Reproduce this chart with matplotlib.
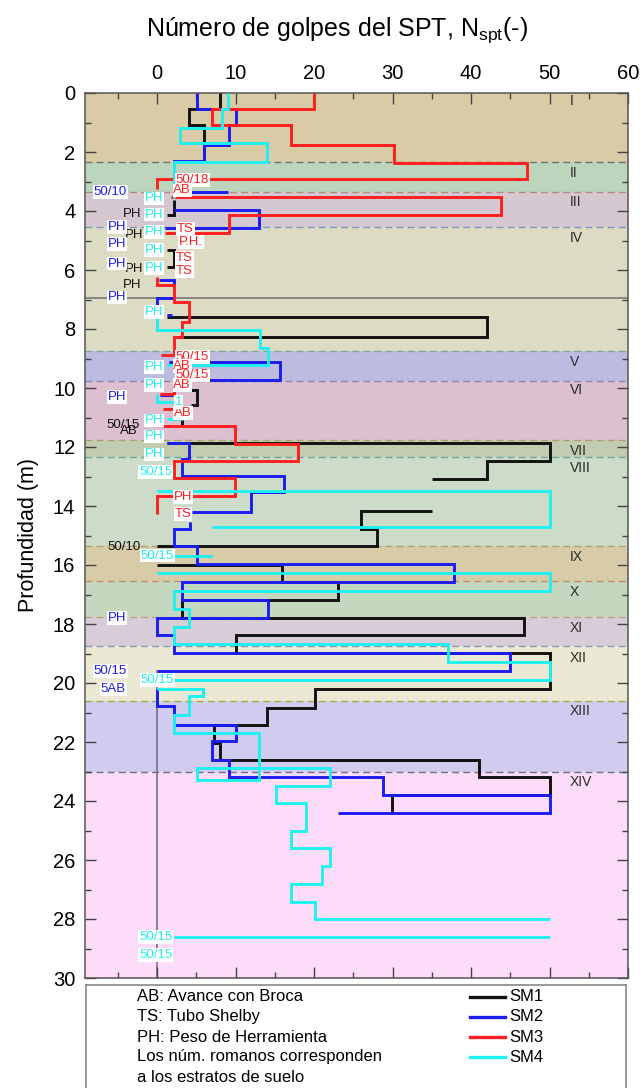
import numpy as np
import matplotlib
matplotlib.use('Agg')
import matplotlib.pyplot as plt

plt.rcParams['font.family'] = ['Liberation Sans', 'DejaVu Sans']
nan = np.nan

# ---------------- data ----------------
strata_bounds = [0, 2.35, 3.35, 4.55, 8.75, 9.75, 11.75, 12.35, 15.35, 16.55,
                 17.75, 18.75, 20.6, 23.0, 30]
strata_names = ['I', 'II', 'III', 'IV', 'V', 'VI', 'VII', 'VIII', 'IX', 'X',
                'XI', 'XII', 'XIII', 'XIV']
strata_label_depth = [0.28, 2.72, 3.68, 4.9, 9.12, 10.08, 12.12, 12.72, 15.74,
                      16.93, 18.12, 19.14, 20.95, 23.34]
strata_colors = ['#d8cba6', '#bdd5bd', '#d5c8d0', '#dcdcc4', '#bcbce0', '#dcc0d0',
                 '#c2ccb0', '#ccdcc8', '#d8cca8', '#c4d8c0', '#d8ccd8', '#ebe9d3',
                 '#d0ccf0', '#fcdcf8']
boundary_colors = ['#707068', '#b08a80', '#7f95c0', '#80a898', '#8a86b8', '#b0a070',
                   '#70a8a0', '#b0a070', '#c09060', '#c0a080', '#8a98b8', '#a0b040',
                   '#707080']
sublayer_depth = 6.95

# SM1 (black)
sm1_n = [8, 8, 4, 4, 6, 6, nan,
         2.1, 2.1, 1.3, nan,
         1.3, 2.1, 2.1, 1.3, nan,
         1.2, 42, 42, 2.6, nan,
         4.3, 5.1, 5.1, 4.3, nan,
         3.1, 3.1, nan,
         1.2, 50, 50, 42, 42, 35, nan,
         35, 26, 26, 28, 28, 0, nan,
         0, 15.9, 15.9, 23, 23, 3.1, 3.1, 46.8, 46.8, 10, 10, 50, 50, 20.1, 20.1,
         14, 14, 7.2, 7.2, 8, 8, 41, 41, 50, 50, 29.9, 29.9]
sm1_z = [0, 0.53, 0.53, 1.08, 1.08, 2.32, nan,
         3.62, 4.13, 4.13, nan,
         5.32, 5.32, 5.89, 5.89, nan,
         7.59, 7.59, 8.27, 8.27, nan,
         10.08, 10.08, 10.59, 10.59, nan,
         11.1, 11.27, nan,
         11.86, 11.86, 12.46, 12.46, 13.08, 13.08, nan,
         14.16, 14.16, 14.78, 14.78, 15.37, 15.37, nan,
         15.99, 15.99, 16.59, 16.59, 17.18, 17.18, 17.78, 17.78, 18.38, 18.38, 18.99,
         18.99, 20.2, 20.2, 20.84, 20.84, 21.41, 21.41, 22.03, 22.03, 22.6, 22.6,
         23.2, 23.2, 23.8, 23.8, 24.41]

# SM2 (blue)
sm2_n = [5.1, 5.1, 10.1, 10.1, 9.1, 9.1, 6, 6, 2.1, 2.1, 9, nan,
         2.1, 13, 13, 1.0, nan,
         0.2, 2.1, 2.1, nan,
         2.1, 0, 0, nan,
         1.2, 1.9, nan,
         1.5, 15.7, 15.7, 2.1, 2.1, nan,
         0.4, 2.0, nan,
         1.2, 4, 4, 3.1, 3.1, 16.1, 16.1, 11.9, 11.9, 4.4, nan,
         4.2, 4.2, 2.1, 2.1, 5.1, 5.1, 37.8, 37.8, 3.1, 3.1, 14.1, 14.1, 0, 0, 2.1,
         2.1, 44.9, 44.9, 0, nan,
         0, 0, 2.1, 2.1, 10, 10, 7, 7, 9.1, 9.1, 28.8, 28.8, 50, 50, 23.1]
sm2_z = [0, 0.53, 0.53, 1.08, 1.08, 1.75, 1.75, 2.32, 2.32, 3.36, 3.36, nan,
         3.96, 3.96, 4.56, 4.56, nan,
         6.34, 6.34, 6.51, nan,
         6.96, 6.96, 7.19, nan,
         7.53, 7.53, nan,
         9.12, 9.12, 9.74, 9.74, 10.08, nan,
         10.25, 10.25, nan,
         11.86, 11.86, 12.4, 12.4, 12.97, 12.97, 13.53, 13.53, 14.19, 14.19, nan,
         14.55, 14.78, 14.78, 15.37, 15.37, 15.97, 15.97, 16.57, 16.57, 17.18, 17.18,
         17.78, 17.78, 18.38, 18.38, 18.99, 18.99, 19.6, 19.6, nan,
         20.2, 20.79, 20.79, 21.41, 21.41, 21.97, 21.97, 22.6, 22.6, 23.18, 23.18,
         23.8, 23.8, 24.41, 24.41]

# SM3 (red)
sm3_n = [20, 20, 7, 7, 17, 17, 30.2, 30.2, 47.1, 47.1, 0, 0, nan,
         1.8, 43.8, 43.8, 9.1, 9.1, 1.0, nan,
         0, 0, 2.1, 2.1, 4, 4, 3.1, 3.1, 2.1, 2.1, 0.5, nan,
         2.1, 2.1, 0.4, nan,
         0.8, 2.3, nan,
         0.8, 9.9, 9.9, 18, 18, 2.1, 2.1, 9.9, 9.9, 0, 0]
sm3_z = [0, 0.53, 0.53, 1.1, 1.1, 1.75, 1.75, 2.38, 2.38, 2.92, 2.92, 3.25, nan,
         3.51, 3.51, 4.13, 4.13, 4.76, 4.76, nan,
         6.23, 6.51, 6.51, 7.08, 7.08, 7.76, 7.76, 8.27, 8.27, 8.89, 8.89, nan,
         9.95, 10.19, 10.19, nan,
         10.7, 10.7, nan,
         11.29, 11.29, 11.89, 11.89, 12.46, 12.46, 13.06, 13.06, 13.67, 13.67, 14.27]

# SM4 (cyan)
sm4_n = [9, 9, 8.2, 8.2, 2.9, 2.9, 14, 14, 2.1, 2.1, nan,
         0, 0, 13.1, 13.1, 14.1, 14.1, 1.2, nan,
         0, 0, 2.1, nan,
         1.2, 3.1, nan,
         0, 50, 50, 7, nan,
         2.1, 7, nan,
         0, 50, 50, 2.1, 2.1, 4, 4, 2.1, 2.1, 37, 37, 50, 50, 2.1, nan,
         0, 5.9, 5.9, 4, 4, 2.1, 2.1, 13, 13, 5.1, 5.1, 22, 22, 15.2, 15.2, 19, 19,
         17, 17, 22, 22, 21, 21, 17, 17, 20.1, 20.1, 50, nan,
         2.1, 50]
sm4_z = [0, 0.53, 0.53, 1.17, 1.17, 1.7, 1.7, 2.34, 2.34, 3.57, nan,
         7.47, 8.04, 8.04, 8.66, 8.66, 9.23, 9.23, nan,
         10.2, 10.48, 10.48, nan,
         11.04, 11.04, nan,
         13.48, 13.48, 14.7, 14.7, nan,
         15.68, 15.68, nan,
         16.28, 16.28, 16.87, 16.87, 17.48, 17.48, 18.09, 18.09, 18.69, 18.69, 19.29,
         19.29, 19.9, 19.9, nan,
         20.2, 20.2, 20.45, 20.45, 21.1, 21.1, 21.69, 21.69, 23.28, 23.28, 22.88,
         22.88, 23.5, 23.5, 24.07, 24.07, 25.0, 25.0, 25.6, 25.6, 26.2, 26.2, 26.8,
         26.8, 27.41, 27.41, 28.01, 28.01, nan,
         28.62, 28.62]

ref_line_n = [0, 0]
ref_line_z = [19.6, 30]

# annotation labels (text, N, depth)
sm1_labels = [('PH', -3.2, 4.1), ('PH', -3.0, 4.8), ('PH', -3.0, 5.95),
              ('PH', -3.2, 6.52), ('50/15', -4.3, 11.27), ('AB', -3.6, 11.45),
              ('50/10', -4.2, 15.4)]
sm2_labels = [('50/10', -6.0, 3.35), ('PH', -5.1, 4.55), ('PH', -5.1, 5.12),
              ('PH', -5.1, 5.78), ('PH', -5.1, 6.93), ('PH', -5.1, 10.31),
              ('PH', -5.1, 17.8), ('50/15', -6.0, 19.6), ('5AB', -5.6, 20.2)]
sm3_labels = [('50/18', 4.5, 2.95), ('AB', 3.2, 3.3), ('TS', 3.6, 4.62),
              ('P.H.', 4.3, 5.05), ('TS', 3.5, 5.6), ('TS', 3.5, 6.05),
              ('50/15', 4.5, 8.95), ('AB', 3.2, 9.25), ('50/15', 4.5, 9.57),
              ('AB', 3.2, 9.9), ('AB', 3.3, 10.85), ('PH', 3.3, 13.7),
              ('TS', 3.3, 14.27)]
sm4_labels = [('PH', -0.4, 3.57), ('PH', -0.4, 4.12), ('PH', -0.4, 4.72),
              ('PH', -0.4, 5.33), ('PH', -0.4, 5.93), ('PH', -0.4, 7.42),
              ('PH', -0.4, 9.29), ('PH', -0.4, 9.89), ('1', 2.7, 10.48),
              ('PH', -0.4, 11.1), ('PH', -0.4, 11.64), ('PH', -0.4, 12.25),
              ('50/15', -0.2, 12.85), ('50/15', 0.0, 15.68), ('50/15', 0.0, 19.9),
              ('50/15', -0.2, 28.62), ('50/15', -0.2, 29.23)]

series_names = ['SM1', 'SM2', 'SM3', 'SM4']
series_colors = ['#111111', '#1c1cf0', '#ff1f1f', '#1ff0f0']

legend_notes = ['AB: Avance con Broca', 'TS: Tubo Shelby', 'PH: Peso de Herramienta',
                'Los núm. romanos corresponden', 'a los estratos de suelo']

# ---------------- figure ----------------
fig = plt.figure(figsize=(6.4, 10.88), dpi=100)
ax = fig.add_axes([85 / 640, 1 - 978 / 1088, (628 - 85) / 640, (978 - 93) / 1088])

for i in range(len(strata_names)):
    ax.axhspan(strata_bounds[i], strata_bounds[i + 1], color=strata_colors[i],
               lw=0, zorder=0)
for i in range(1, len(strata_bounds) - 1):
    ax.axhline(strata_bounds[i], color=boundary_colors[i - 1], lw=1.0,
               ls=(0, (5, 3)), zorder=1)
ax.axhline(sublayer_depth, color='#707070', lw=1.1, zorder=1)
ax.plot(ref_line_n, ref_line_z, color='#6e6680', lw=1.1, zorder=1)

for i, name in enumerate(strata_names):
    ax.text(52.6, strata_label_depth[i], name, fontsize=10, color='#2a2a2a',
            ha='left', va='center', zorder=2)

series = [(sm1_n, sm1_z), (sm2_n, sm2_z), (sm3_n, sm3_z), (sm4_n, sm4_z)]
lines = []
for k, (n, z) in enumerate(series):
    ln, = ax.plot(n, z, color=series_colors[k], lw=2.1, zorder=3 + k,
                  solid_joinstyle='miter', solid_capstyle='butt')
    lines.append(ln)

label_sets = [sm1_labels, sm2_labels, sm3_labels, sm4_labels]
for k, labs in enumerate(label_sets):
    for txt, xn, zd in labs:
        kw = dict(fontsize=9.5, color=series_colors[k], ha='center', va='center',
                  zorder=8 + k)
        if k != 0:
            kw['bbox'] = dict(facecolor='white', edgecolor='none', pad=0.6)
        ax.text(xn, zd, txt, **kw)

ax.set_xlim(-9.2, 60)
ax.set_ylim(30, 0)
ax.set_xticks(np.arange(0, 61, 10))
ax.set_xticks(np.arange(-5, 60, 5), minor=True)
ax.set_yticks(np.arange(0, 31, 2))
ax.set_yticks(np.arange(1, 30, 2), minor=True)
ax.tick_params(which='both', direction='in', top=True, bottom=True, left=True,
               right=True, labeltop=True, labelbottom=False, colors='#444444',
               labelcolor='black')
ax.tick_params(which='major', length=8, width=1, labelsize=14.5, pad=7)
ax.tick_params(which='minor', length=4, width=1)
for sp in ax.spines.values():
    sp.set_color('#555555')
    sp.set_linewidth(1.1)

ax.set_ylabel('Profundidad (m)', fontsize=15.5, labelpad=10)
fig.text(0.527, 1 - 30 / 1088, 'Número de golpes del SPT, N$_{\\mathregular{spt}}$(-)',
         fontsize=18, ha='center', va='center')

# legend box
lax = fig.add_axes([86 / 640, 1 - 1095 / 1088, 540 / 640, 110 / 1088])
lax.set_xlim(0, 1)
lax.set_ylim(0, 1)
lax.set_xticks([])
lax.set_yticks([])
for sp in lax.spines.values():
    sp.set_color('#888888')
    sp.set_linewidth(1.2)
note_y = [(1095 - py) / 110 for py in (997, 1017, 1037, 1057, 1078)]
for t, yy in zip(legend_notes, note_y):
    lax.text(0.094, yy, t, fontsize=12, ha='left', va='center')
for k, name in enumerate(series_names):
    lax.plot([0.711, 0.776], [note_y[k], note_y[k]], color=series_colors[k], lw=2.4)
    lax.text(0.783, note_y[k], name, fontsize=12, ha='left', va='center')

fig.savefig('out.png', dpi=100)
